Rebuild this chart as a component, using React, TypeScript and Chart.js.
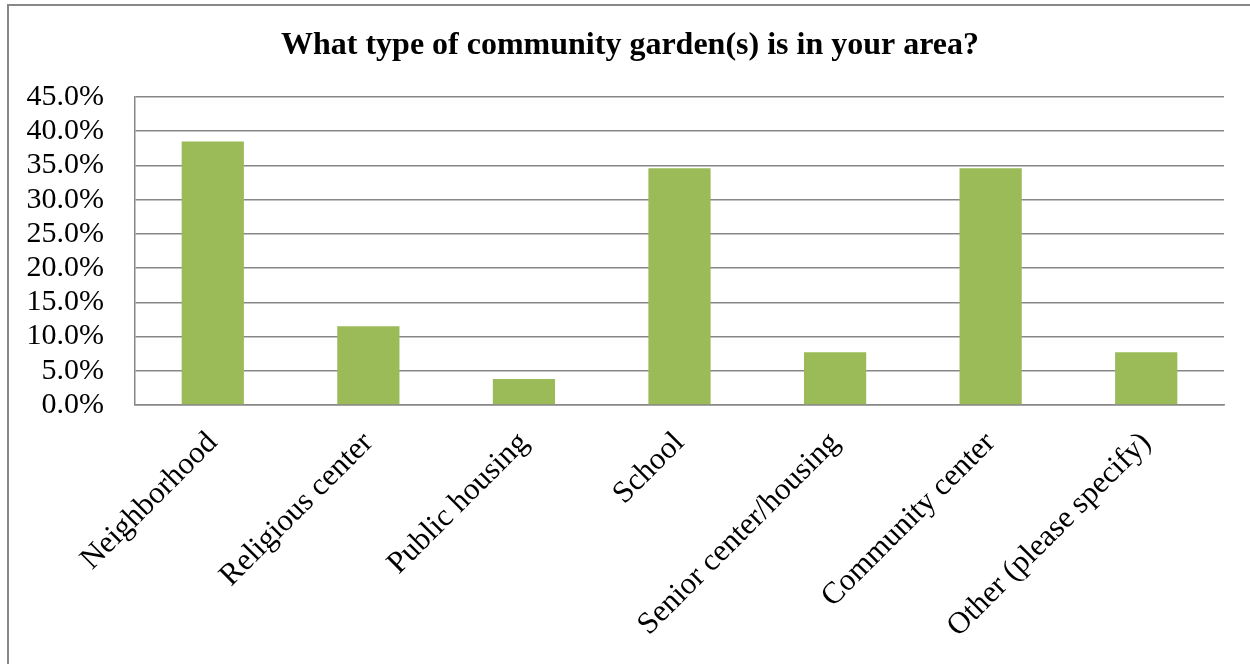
import React, { useEffect, useRef } from "react";
import { Chart, registerables } from "chart.js";

Chart.register(...registerables);

const TITLE = "What type of community garden(s) is in your area?";
const categories = [
  "Neighborhood",
  "Religious center",
  "Public housing",
  "School",
  "Senior center/housing",
  "Community center",
  "Other (please specify)",
];
const percentValues = [38.5, 11.5, 3.8, 34.6, 7.7, 34.6, 7.7];
const yMin = 0;
const yMax = 45;
const yStep = 5;

const FONT = "'Liberation Serif', 'Times New Roman', serif";
const GRID = "#878787";
const BAR = "#9BBB59";

const titlePlugin = {
  id: "centeredTitle",
  afterDraw(chart: any) {
    const ctx = chart.ctx;
    ctx.save();
    ctx.font = `bold 32px ${FONT}`;
    ctx.fillStyle = "#000";
    ctx.textAlign = "center";
    ctx.textBaseline = "middle";
    ctx.fillText(TITLE, 630, 46);
    ctx.restore();
  },
};

export default function App() {
  const canvasRef = useRef<HTMLCanvasElement | null>(null);

  useEffect(() => {
    const canvas = canvasRef.current;
    if (!canvas) return;
    const chart = new Chart(canvas, {
      type: "bar",
      data: {
        labels: categories,
        datasets: [
          {
            data: percentValues,
            backgroundColor: BAR,
            borderWidth: 0,
            barPercentage: 0.4,
            categoryPercentage: 1,
          },
        ],
      },
      plugins: [titlePlugin],
      options: {
        responsive: false,
        animation: false,
        devicePixelRatio: 1,
        layout: { padding: { left: 10, right: 26, top: 97, bottom: 0 } },
        plugins: {
          legend: { display: false },
          tooltip: { enabled: false },
          title: { display: false },
        },
        scales: {
          x: {
            grid: { display: false, drawTicks: false },
            border: { display: true, color: GRID, width: 1.5 },
            ticks: {
              color: "#000",
              font: { family: FONT, size: 31 },
              minRotation: 45,
              maxRotation: 45,
              autoSkip: false,
              padding: 20,
            },
            afterFit: (scale: any) => {
              scale.height = 259;
            },
          },
          y: {
            min: yMin,
            max: yMax,
            grid: { color: GRID, lineWidth: 1.5, drawTicks: false },
            border: { display: true, color: GRID, width: 1.5 },
            ticks: {
              stepSize: yStep,
              autoSkip: false,
              color: "#000",
              font: { family: FONT, size: 30 },
              padding: 31,
              callback: (v: any) => Number(v).toFixed(1) + "%",
            },
            afterFit: (scale: any) => {
              scale.width = 125;
            },
          },
        },
      },
    });
    return () => chart.destroy();
  }, []);

  return (
    <div
      style={{
        position: "absolute",
        left: 0,
        top: 0,
        width: 1250,
        height: 664,
        overflow: "hidden",
        background: "#fff",
      }}
    >
      <div
        style={{
          position: "absolute",
          left: 7,
          top: 4,
          width: 1400,
          height: 800,
          border: "2px solid #878787",
        }}
      />
      <canvas
        ref={canvasRef}
        width={1250}
        height={664}
        style={{ position: "absolute", left: 0, top: 0, width: 1250, height: 664 }}
      />
    </div>
  );
}
